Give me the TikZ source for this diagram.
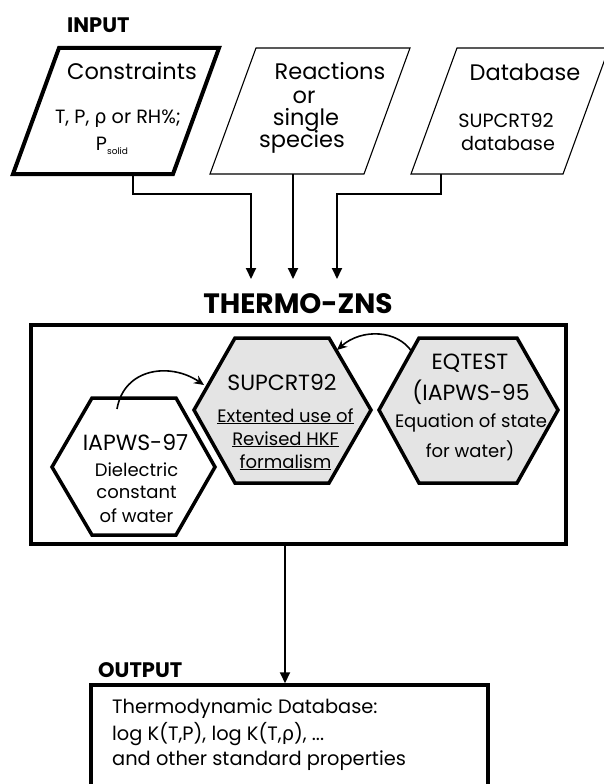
\documentclass[tikz,border=0pt]{standalone}
\usepackage{fontspec}
\setmainfont{Poppins}
\newfontfamily\gr{DejaVu Sans}
\usetikzlibrary{arrows.meta}
\definecolor{hexgray}{RGB}{228,228,228}
\begin{document}
\begin{tikzpicture}[x=1pt,y=-1pt,
  paraline/.style={line width=1.1pt, line join=miter},
  parathick/.style={line width=4pt, line join=miter},
  hexw/.style={line width=3.5pt, fill=white, line join=miter},
  hexg/.style={line width=3.5pt, fill=hexgray, line join=miter},
  boxthick/.style={draw, line width=3.5pt, inner sep=0pt},
  conn/.style={line width=2pt, -{Triangle[length=11pt,width=10pt]}},
  curv/.style={line width=1.6pt, -{Stealth[length=10pt,width=9pt]}},
  lbl/.style={inner sep=0pt, anchor=base},
  lblw/.style={inner sep=0pt, anchor=base west},
  head/.style={lblw, font=\fontsize{21pt}{21pt}\bfseries\selectfont},
  big/.style={lbl, font=\fontsize{22.5pt}{22.5pt}\selectfont},
  small/.style={lbl, font=\fontsize{19.2pt}{19.2pt}\selectfont},
  hbig/.style={lbl, font=\fontsize{22pt}{22pt}\selectfont},
  hsmall/.style={lbl, font=\fontsize{18pt}{18pt}\selectfont},
  outtxt/.style={lblw, font=\fontsize{19.4pt}{19.4pt}\selectfont}
]
\useasboundingbox (0,0) rectangle (603,784);

% ---------- INPUT ----------
\node[head] (input) at (67,33) {INPUT};

% parallelograms
\draw[parathick] (13,174) -- (173,174) -- (219,48) -- (59,48) -- cycle;
\draw[paraline] (210,174) -- (364,174) -- (410,48) -- (256,48) -- cycle;
\draw[paraline] (411,174) -- (563,174) -- (609,48) -- (457,48) -- cycle;

\node[big] (c1) at (132,80) {Constraints};
\node[small] (c2) at (118,123) {T, P, {\gr ρ} or RH\%;};
\node[small] (c3) at (112,150) {P\raisebox{-4pt}{\fontsize{9pt}{9pt}\selectfont solid}};

\node[big] (r1) at (330,80) {Reactions};
\node[big] (r2) at (304,103) {or};
\node[big] (r3) at (306,125) {single};
\node[big] (r4) at (302,147) {species};

\node[big] (d1) at (525,81) {Database};
\node[small] (d2) at (506,127) {SUPCRT92};
\node[small] (d3) at (508,150) {database};

% connector ends
\coordinate (p1b) at (133,174);
\coordinate (p2b) at (293,174);
\coordinate (p3b) at (441,174);
\coordinate (t1) at (251,279);
\coordinate (t2) at (293,279);
\coordinate (t3) at (337,279);

\draw[conn] (p1b) -- ++(0,20) -| (t1);
\draw[conn] (p2b) -- (t2);
\draw[conn] (p3b) -- ++(0,20) -| (t3);

% ---------- THERMO-ZNS ----------
\node[lbl, font=\fontsize{28pt}{28pt}\bfseries\selectfont] (zt) at (298,313) {THERMO-ZNS};
\node[boxthick, minimum width=535pt, minimum height=219pt] (zns) at (298.5,434.5) {};

% hexagons
\draw[hexw] (52,467) -- (92,398) -- (176,398) -- (215,467) -- (176,535) -- (92,535) -- cycle;
\draw[hexg] (194,410) -- (235,338) -- (329,338) -- (371,410) -- (329,483) -- (235,483) -- cycle;
\draw[hexg] (379,410) -- (419,338) -- (517,338) -- (558,410) -- (517,483) -- (419,483) -- cycle;

\node[hbig] (h1a) at (135.5,450) {IAPWS-97};
\node[hsmall] (h1b) at (136.5,476) {Dielectric};
\node[hsmall] (h1c) at (136.5,498) {constant};
\node[hsmall] (h1d) at (136.5,522) {of water};

\node[hbig] (h2a) at (282,390) {SUPCRT92};
\node[hsmall] (h2b) at (285.5,422) {\underline{Extented use of}};
\node[hsmall] (h2c) at (285.5,445) {\underline{Revised HKF}};
\node[hsmall] (h2d) at (285.5,468) {\underline{formalism}};

\node[hbig] (h3a) at (470,369) {EQTEST};
\node[hbig] (h3b) at (471,400) {(IAPWS-95};
\node[hsmall] (h3c) at (471,427) {Equation of state};
\node[hsmall] (h3d) at (470,457) {for water)};

\coordinate (a1s) at (117,409);
\coordinate (a1e) at (204,385);
\coordinate (a2s) at (412,352);
\coordinate (a2e) at (337,350);
\draw[curv] (a1s) .. controls (124,368) and (170,362) .. (a1e);
\draw[curv] (a2s) .. controls (398,330) and (362,328) .. (a2e);

% ---------- OUTPUT ----------
\node[head] (output) at (98,677) {OUTPUT};
\node[boxthick, minimum width=397pt, minimum height=105pt] (outbox) at (289.5,737.5) {};
\path (zns.south) ++(-13.5,0) coordinate (zb);
\draw[conn] (zb) -- (zb |- outbox.north);

\node[outtxt] (o1) at (112,713) {Thermodynamic Database:};
\node[outtxt] (o2) at (112,740) {log K(T,P), log K(T,{\gr ρ}), ...};
\node[outtxt] (o3) at (112,765) {and other standard properties};
\end{tikzpicture}
\end{document}
